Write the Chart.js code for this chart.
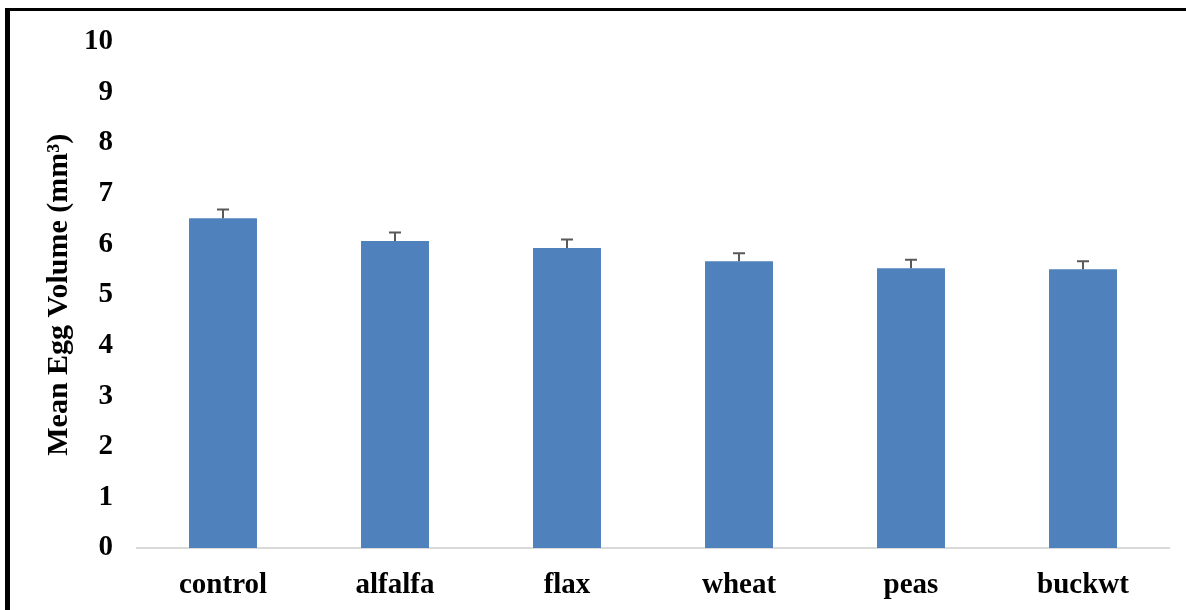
<!DOCTYPE html>
<html>
<head>
<meta charset="utf-8">
<script src="https://cdn.jsdelivr.net/npm/chart.js@4.4.1/dist/chart.umd.min.js"></script>
<style>
  html, body { margin: 0; padding: 0; background: #fff; overflow: hidden; }
  #wrap { position: relative; width: 1186px; height: 610px; }
  #c { position: absolute; left: 0; top: 0; }
  #frame { position: absolute; left: 5px; top: 8px; right: 0; bottom: -10px;
           border-left: 5px solid #000; border-top: 3px solid #000; pointer-events: none; }
</style>
</head>
<body>
<div id="wrap">
  <canvas id="c" width="1186" height="610"></canvas>
  <div id="frame"></div>
</div>
<script>
const categories = ['control', 'alfalfa', 'flax', 'wheat', 'peas', 'buckwt'];
const meanEggVolume = [6.51, 6.06, 5.92, 5.66, 5.52, 5.50];
const stdError = [0.17, 0.17, 0.17, 0.16, 0.17, 0.16];
const yTicks = [0, 1, 2, 3, 4, 5, 6, 7, 8, 9, 10];
const yTitle = 'Mean Egg Volume (mm³)';

const FONT = 'Liberation Serif, "Times New Roman", serif';

const errorBarPlugin = {
  id: 'errorBars',
  afterDatasetsDraw(chart) {
    const meta = chart.getDatasetMeta(0);
    const yScale = chart.scales.y;
    const ctx = chart.ctx;
    ctx.save();
    ctx.strokeStyle = '#595959';
    ctx.lineWidth = 2;
    meta.data.forEach((bar, i) => {
      const v = meanEggVolume[i];
      const yTop = yScale.getPixelForValue(v + stdError[i]);
      const yBar = yScale.getPixelForValue(v);
      ctx.beginPath();
      ctx.moveTo(bar.x, yBar);
      ctx.lineTo(bar.x, yTop);
      ctx.moveTo(bar.x - 6, yTop);
      ctx.lineTo(bar.x + 6, yTop);
      ctx.stroke();
    });
    ctx.restore();
  }
};

new Chart(document.getElementById('c'), {
  type: 'bar',
  data: {
    labels: categories,
    datasets: [{
      data: meanEggVolume,
      backgroundColor: '#4f81bd',
      borderWidth: 0,
      barPercentage: 0.395,
      categoryPercentage: 1.0
    }]
  },
  options: {
    responsive: false,
    animation: false,
    layout: { padding: { top: 36, right: 17, left: 0, bottom: 0 } },
    plugins: { legend: { display: false }, tooltip: { enabled: false } },
    scales: {
      x: {
        grid: { display: false, drawTicks: false },
        border: { display: true, color: '#d9d9d9', width: 2 },
        ticks: { color: '#000', font: { family: FONT, size: 29, weight: 'bold' }, padding: 20 },
        afterFit(scale) { scale.height = 62; }
      },
      y: {
        min: 0, max: 10,
        afterBuildTicks(scale) { scale.ticks = yTicks.map(v => ({ value: v })); },
        grid: { display: false, drawTicks: false },
        border: { display: false },
        ticks: { color: '#000', font: { family: FONT, size: 29, weight: 'bold' }, padding: 24 },
        title: {
          display: true, text: yTitle, color: '#000',
          font: { family: FONT, size: 30, weight: 'bold' },
          padding: { top: 41, bottom: 0 }
        },
        afterFit(scale) { scale.width = 137; }
      }
    }
  },
  plugins: [errorBarPlugin]
});
</script>
</body>
</html>
